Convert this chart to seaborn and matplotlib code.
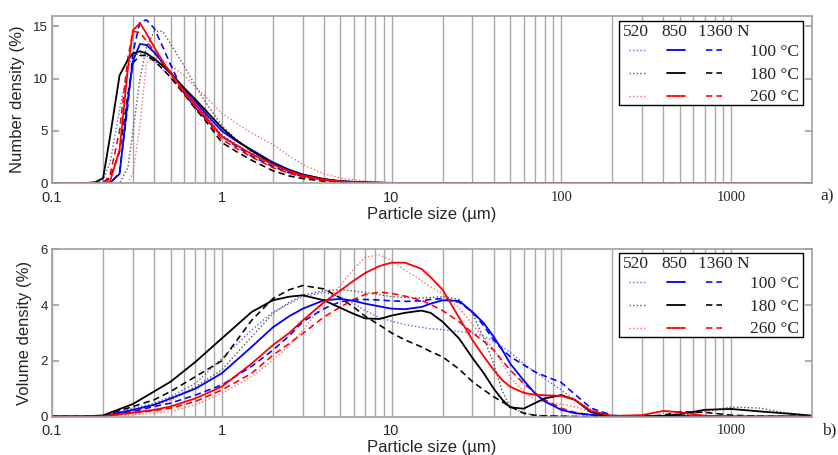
import numpy as np
import pandas as pd
import matplotlib
matplotlib.use("Agg")
import matplotlib.pyplot as plt
import seaborn as sns
from matplotlib.lines import Line2D
from matplotlib.patches import Rectangle

# ---------------- data ----------------
temps = ["100 °C", "180 °C", "260 °C"]
loads = ["520", "850", "1360"]

# (a) number density
size_a = [0.1, 0.15, 0.18, 0.2, 0.22, 0.25, 0.28, 0.3, 0.33, 0.36, 0.4, 0.45, 0.5, 0.6, 0.7,
          0.8, 1, 1.2, 1.5, 2, 2.5, 3, 4, 5, 7, 10, 20, 100, 1000, 3000]
num_100_520 = [0, 0, 0, 0.3, 2.0, 7.0, 11.0, 12.2, 12.4, 12.2, 11.7, 10.9, 10.1, 8.8, 7.6,
               6.5, 4.6, 3.8, 2.8, 1.8, 1.15, 0.75, 0.35, 0.17, 0.06, 0.02, 0, 0, 0, 0]
num_100_850 = [0, 0, 0, 0, 0.05, 0.9, 8.0, 11.7, 13.3, 13.2, 12.5, 11.5, 10.6, 9.0, 7.8,
               6.7, 5.0, 4.1, 3.2, 2.0, 1.3, 0.85, 0.4, 0.2, 0.08, 0.03, 0, 0, 0, 0]
num_100_1360 = [0, 0, 0, 0, 0, 1.0, 7.5, 12.5, 15.4, 15.6, 14.8, 13.0, 11.3, 8.6, 7.2,
                6.2, 4.5, 3.6, 2.6, 1.6, 1.0, 0.65, 0.3, 0.15, 0.06, 0.02, 0, 0, 0, 0]
num_180_520 = [0, 0, 0, 0, 0, 0, 1.5, 5.0, 10.0, 13.0, 14.5, 14.5, 13.3, 11.2, 9.3,
               7.8, 5.5, 4.3, 3.0, 1.8, 1.1, 0.7, 0.3, 0.15, 0.05, 0.02, 0, 0, 0, 0]
num_180_850 = [0, 0, 0.1, 0.5, 4.5, 10.3, 11.8, 12.4, 12.6, 12.4, 11.9, 11.2, 10.5, 9.1, 8.0,
               7.0, 5.3, 4.2, 3.1, 1.9, 1.2, 0.8, 0.4, 0.2, 0.08, 0.03, 0, 0, 0, 0]
num_180_1360 = [0, 0, 0, 0.1, 0.5, 3.0, 8.5, 11.5, 12.2, 12.2, 11.7, 10.9, 10.1, 8.5, 7.1,
                6.0, 3.9, 3.1, 2.2, 1.2, 0.7, 0.45, 0.2, 0.1, 0.04, 0.01, 0, 0, 0, 0]
num_260_520 = [0, 0, 0, 0, 0, 0, 0, 1.0, 5.6, 11.5, 12.0, 11.8, 11.3, 10.3, 9.2,
               8.3, 6.7, 5.8, 4.8, 3.7, 2.6, 1.8, 0.9, 0.5, 0.2, 0.08, 0.01, 0, 0, 0]
num_260_850 = [0, 0, 0, 0, 0.2, 3.2, 11.0, 14.6, 15.3, 14.3, 13.0, 11.6, 10.5, 8.8, 7.5,
               6.4, 4.5, 3.7, 2.8, 1.8, 1.15, 0.75, 0.35, 0.18, 0.07, 0.03, 0, 0, 0, 0]
num_260_1360 = [0, 0, 0, 0, 0.8, 5.0, 12.0, 14.5, 14.4, 13.6, 12.6, 11.4, 10.4, 8.6, 7.3,
                6.2, 4.2, 3.4, 2.5, 1.5, 0.95, 0.6, 0.28, 0.14, 0.05, 0.02, 0, 0, 0, 0]

# (b) volume density
size_b = [0.1, 0.15, 0.2, 0.3, 0.4, 0.5, 0.7, 1, 1.5, 2, 2.5, 3, 4, 5, 6, 7, 8.5, 10, 12,
          15, 17, 20, 25, 30, 35, 40, 45, 50, 60, 70, 80, 100, 120, 150, 200, 300, 400,
          500, 700, 1000, 1500, 2000, 3000]
vol_100_520 = [0, 0, 0.01, 0.3, 0.48, 0.71, 1.19, 2.08, 3.1, 3.75, 4.05, 4.29, 4.46, 4.3,
               4.05, 3.8, 3.55, 3.42, 3.3, 3.2, 3.15, 3.12, 3.05, 3.0, 2.88, 2.7, 2.5, 2.3,
               1.9, 1.6, 1.35, 0.95, 0.6, 0.25, 0.03, 0, 0, 0, 0, 0, 0, 0, 0]
vol_100_850 = [0, 0, 0.01, 0.24, 0.42, 0.65, 1.0, 1.55, 2.5, 3.2, 3.6, 3.87, 4.17, 4.22,
               4.15, 4.05, 3.95, 3.87, 3.85, 3.93, 4.05, 4.17, 4.15, 3.75, 3.35, 2.86, 2.38,
               1.9, 1.3, 0.83, 0.54, 0.24, 0.12, 0.06, 0.01, 0, 0.02, 0.02, 0, 0, 0, 0, 0]
vol_100_1360 = [0, 0, 0.01, 0.18, 0.36, 0.48, 0.77, 1.13, 1.8, 2.38, 2.9, 3.4, 3.87, 4.12,
                4.18, 4.2, 4.18, 4.15, 4.13, 4.15, 4.2, 4.23, 4.1, 3.75, 3.25, 2.74, 2.4,
                2.15, 1.85, 1.6, 1.45, 1.22, 0.8, 0.3, 0.04, 0, 0, 0, 0, 0, 0, 0, 0]
vol_180_520 = [0, 0, 0.01, 0.24, 0.42, 0.6, 1.07, 1.67, 2.86, 3.69, 4.1, 4.35, 4.52, 4.55,
               4.5, 4.45, 4.37, 4.3, 4.27, 4.25, 4.27, 4.3, 4.2, 3.7, 2.8, 1.9, 0.9, 0.35,
               0.12, 0.05, 0.03, 0.02, 0.01, 0, 0, 0, 0, 0.04, 0.18, 0.34, 0.3, 0.15, 0.03]
vol_180_850 = [0, 0, 0.04, 0.45, 0.9, 1.25, 1.96, 2.8, 3.75, 4.17, 4.3, 4.35, 4.17, 3.9,
               3.68, 3.52, 3.5, 3.62, 3.72, 3.8, 3.72, 3.4, 2.8, 2.1, 1.55, 1.0, 0.6, 0.33,
               0.28, 0.48, 0.65, 0.77, 0.6, 0.15, 0.01, 0, 0.02, 0.08, 0.24, 0.27, 0.18,
               0.12, 0.03]
vol_180_1360 = [0, 0, 0.02, 0.36, 0.6, 0.9, 1.43, 2.0, 3.45, 4.23, 4.55, 4.7, 4.58, 4.25,
                3.92, 3.6, 3.28, 3.0, 2.75, 2.5, 2.33, 2.14, 1.7, 1.25, 0.95, 0.71, 0.52,
                0.36, 0.12, 0.04, 0.02, 0.01, 0, 0, 0, 0, 0.05, 0.17, 0.15, 0.05, 0.01, 0, 0]
vol_260_520 = [0, 0, 0, 0.06, 0.12, 0.18, 0.42, 0.83, 1.43, 2.02, 2.55, 3.1, 4.05, 4.7,
               5.3, 5.72, 5.8, 5.6, 5.25, 4.88, 4.65, 4.4, 3.9, 3.3, 2.85, 2.4, 1.9, 1.4,
               0.9, 0.6, 0.5, 0.45, 0.35, 0.15, 0.02, 0, 0, 0, 0, 0, 0, 0, 0]
vol_260_850 = [0, 0, 0.01, 0.14, 0.24, 0.36, 0.65, 1.07, 1.9, 2.56, 3.0, 3.45, 4.1, 4.52,
               4.88, 5.15, 5.4, 5.52, 5.52, 5.3, 5.0, 4.55, 3.55, 2.74, 2.15, 1.67, 1.3,
               1.07, 0.85, 0.78, 0.76, 0.74, 0.6, 0.2, 0.02, 0.05, 0.2, 0.15, 0.03, 0, 0,
               0, 0]
vol_260_1360 = [0, 0, 0.01, 0.12, 0.21, 0.3, 0.54, 0.95, 1.55, 2.2, 2.62, 2.98, 3.57, 3.93,
                4.2, 4.38, 4.46, 4.42, 4.32, 4.17, 4.02, 3.8, 3.4, 3.0, 2.7, 2.38, 2.0, 1.67,
                1.19, 0.85, 0.6, 0.3, 0.15, 0.06, 0.01, 0, 0, 0, 0, 0, 0, 0, 0]

major_ticks = [0.1, 1, 10, 100, 1000]
major_labels = ["0.1", "1", "10", "100", "1000"]
minor_ticks = [m * d for d in (0.1, 1, 10, 100) for m in range(2, 10)]

num_series = {("100 °C", "520"): num_100_520, ("100 °C", "850"): num_100_850,
              ("100 °C", "1360"): num_100_1360, ("180 °C", "520"): num_180_520,
              ("180 °C", "850"): num_180_850, ("180 °C", "1360"): num_180_1360,
              ("260 °C", "520"): num_260_520, ("260 °C", "850"): num_260_850,
              ("260 °C", "1360"): num_260_1360}
vol_series = {("100 °C", "520"): vol_100_520, ("100 °C", "850"): vol_100_850,
              ("100 °C", "1360"): vol_100_1360, ("180 °C", "520"): vol_180_520,
              ("180 °C", "850"): vol_180_850, ("180 °C", "1360"): vol_180_1360,
              ("260 °C", "520"): vol_260_520, ("260 °C", "850"): vol_260_850,
              ("260 °C", "1360"): vol_260_1360}


def long_df(sizes, series):
    rows = []
    for (t, l), vals in series.items():
        for s, v in zip(sizes, vals):
            rows.append({"size": s, "value": v, "temp": t, "load": l})
    return pd.DataFrame(rows)


df_a = long_df(size_a, num_series)
df_b = long_df(size_b, vol_series)

# ---------------- style ----------------
sns.set_theme(style="white")
plt.rcParams["font.family"] = ["Liberation Sans", "DejaVu Sans"]

col_main = {"100 °C": "#0000ff", "180 °C": "#000000", "260 °C": "#ff0000"}
col_dot = {"100 °C": "#5c5cff", "180 °C": "#555555", "260 °C": "#ff6a6a"}
ls_map = {"520": (0, (1, 1.6)), "850": "-", "1360": (0, (4, 2.5))}
lw_map = {"520": 1.0, "850": 1.3, "1360": 1.15}
draw_order = ["520", "1360", "850"]

W, H = 838, 455
fig = plt.figure(figsize=(W / 100, H / 100), dpi=100)
ax1 = fig.add_axes([52 / W, 1 - 183.3 / H, 760 / W, 167.6 / H])
ax2 = fig.add_axes([52 / W, 1 - 416.5 / H, 760 / W, 167.2 / H])

serif = ["Liberation Serif", "DejaVu Serif"]


def draw_panel(ax, df, ylim, yticks, ylabel):
    ax.set_xscale("log")
    for l in draw_order:
        for t in temps:
            sub = df[(df["temp"] == t) & (df["load"] == l)]
            c = col_dot[t] if l == "520" else col_main[t]
            sns.lineplot(data=sub, x="size", y="value", ax=ax, color=c,
                         linestyle=ls_map[l], lw=lw_map[l], estimator=None,
                         sort=False, legend=False)
    ax.set_xlim(0.1, 3000)
    ax.set_ylim(*ylim)
    ax.set_yticks(yticks)
    ax.set_yticklabels([str(v) for v in yticks], fontsize=9.5)
    ax.set_xticks(major_ticks, labels=major_labels)
    for i, tl in enumerate(ax.get_xticklabels()):
        tl.set_fontsize(10.5)
        if i >= 3:
            tl.set_fontfamily(serif)
    ax.set_xticks(minor_ticks, minor=True)
    ax.xaxis.set_minor_formatter(plt.NullFormatter())
    ax.grid(True, which="both", axis="x", color="#a8a8a8", lw=1.0)
    ax.grid(False, axis="y")
    ax.set_axisbelow(True)
    ax.tick_params(axis="x", which="both", length=0, pad=5.5)
    ax.tick_params(axis="y", which="major", direction="in", length=5,
                   color="#a0a0a0", left=True, right=True, pad=3)
    for sp in ax.spines.values():
        sp.set_color("#a0a0a0")
        sp.set_linewidth(1.2)
    ax.set_xlabel("Particle size (µm)", fontsize=12, labelpad=1.5)
    ax.set_ylabel(ylabel, fontsize=12, labelpad=6)


draw_panel(ax1, df_a, (0, 16), [0, 5, 10, 15], "Number density (%)")
draw_panel(ax2, df_b, (0, 6), [0, 2, 4, 6], "Volume density (%)")


def fx(px):
    return px / W


def fy(py):
    return 1 - py / H


def draw_legend(top):
    fig.add_artist(Rectangle((fx(619.3), fy(top + 83.5)), (802.7 - 619.3) / W, 83.5 / H,
                             transform=fig.transFigure, facecolor="white",
                             edgecolor="black", lw=1.0, zorder=5))
    hy = top + 14.6
    for txt, x in zip(["520", "850", "1360 N"], [623, 661.7, 697.7]):
        fig.text(fx(x), fy(hy), txt, ha="left", va="baseline", fontsize=12.5,
                 family=serif, zorder=6)
    line_y = [28.5, 51.5, 74.8]
    text_y = [35.2, 57.8, 80.0]
    xs = {"520": (628.7, 646), "850": (667, 685), "1360": (706, 722)}
    for i, t in enumerate(temps):
        for l in loads:
            c = col_dot[t] if l == "520" else col_main[t]
            x0, x1 = xs[l]
            fig.add_artist(Line2D([fx(x0), fx(x1)], [fy(top + line_y[i])] * 2,
                                  transform=fig.transFigure, color=c,
                                  linestyle=ls_map[l], lw=lw_map[l], zorder=6))
        fig.text(fx(799), fy(top + text_y[i]), t, ha="right", va="baseline",
                 fontsize=12.5, family=serif, zorder=6)


draw_legend(21.0)
draw_legend(253.3)

fig.text(fx(820), fy(200.8), "a)", ha="left", va="baseline", fontsize=12.5, family=serif)
fig.text(fx(822), fy(434.5), "b)", ha="left", va="baseline", fontsize=12.5, family=serif)

fig.savefig("out.png", dpi=100)
